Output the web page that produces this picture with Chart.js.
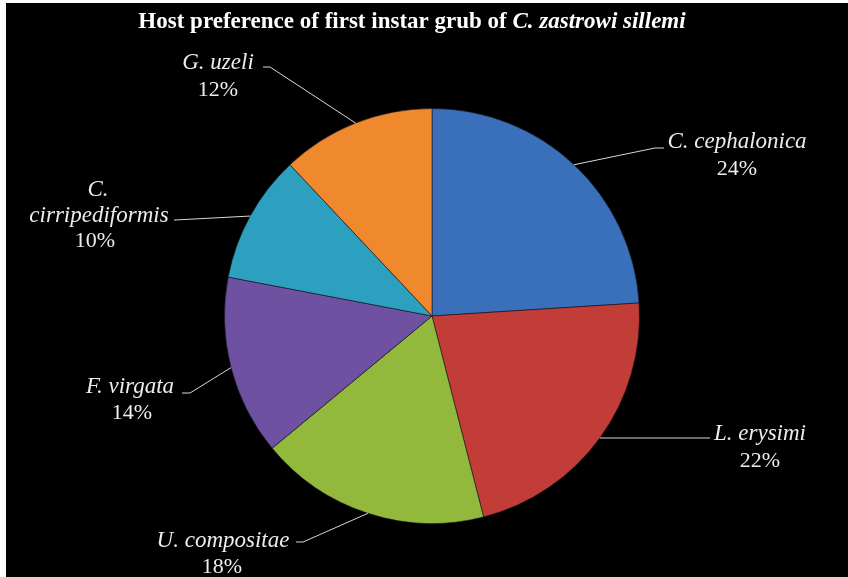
<!DOCTYPE html>
<html>
<head>
<meta charset="utf-8">
<script src="https://cdn.jsdelivr.net/npm/chart.js@4"></script>
<style>
  body { margin: 0; background: #ffffff; }
  #wrap { width: 848px; height: 577px; }
</style>
</head>
<body>
<div id="wrap"><canvas id="hostChart" width="848" height="577"></canvas></div>
<script>
const hosts = ["C. cephalonica", "L. erysimi", "U. compositae", "F. virgata", "C. cirripediformis", "G. uzeli"];
const shares = [24, 22, 18, 14, 10, 12];
const sliceColors = ["#3a6fb9", "#c23c38", "#92b93c", "#6f51a1", "#2ea0bf", "#f0892d"];

// where each label block sits and where its leader line bends
const labelSpots = [
  { lines: [[737, 142, "name"], [737, 169, "pct"]], elbow: [[655, 148], [664, 148]] },
  { lines: [[760, 434, "name"], [760, 461, "pct"]], elbow: [[606, 438], [710, 438]] },
  { lines: [[223, 541, "name"], [222, 567, "pct"]], elbow: [[303, 542], [296, 542]] },
  { lines: [[130, 387, "name"], [132, 413, "pct"]], elbow: [[190, 393], [182, 393]] },
  { lines: [[98, 190, "C."], [99, 216, "cirripediformis"], [95, 241, "pct"]], elbow: [[175, 220], [174, 220]] },
  { lines: [[218, 63, "name"], [218, 90, "pct"]], elbow: [[270, 67], [263, 67]] }
];

function shade(hex, amt) {
  const n = parseInt(hex.slice(1), 16);
  let r = (n >> 16) & 255, g = (n >> 8) & 255, b = n & 255;
  const f = (c) => Math.max(0, Math.min(255, Math.round(amt >= 0 ? c + (255 - c) * amt : c * (1 + amt))));
  return `rgb(${f(r)},${f(g)},${f(b)})`;
}

const backdrop = {
  id: "backdrop",
  beforeDraw(chart) {
    const ctx = chart.ctx;
    ctx.save();
    ctx.fillStyle = "#ffffff";
    ctx.fillRect(0, 0, chart.width, chart.height);
    ctx.fillStyle = "#000000";
    ctx.fillRect(6, 3, chart.width - 6, chart.height - 3);
    ctx.restore();
  }
};

const titleAndLabels = {
  id: "titleAndLabels",
  afterDraw(chart) {
    const ctx = chart.ctx;
    ctx.save();
    // title: plain part then italic species name
    const partA = "Host preference of first instar grub of ";
    const partB = "C. zastrowi sillemi";
    ctx.fillStyle = "#ffffff";
    ctx.textBaseline = "middle";
    ctx.font = "bold 23px 'Liberation Serif'";
    const wA = ctx.measureText(partA).width;
    ctx.font = "italic bold 23px 'Liberation Serif'";
    const wB = ctx.measureText(partB).width;
    let x = 412 - (wA + wB) / 2;
    ctx.textAlign = "left";
    ctx.font = "bold 23px 'Liberation Serif'";
    ctx.fillText(partA, x, 22);
    ctx.font = "italic bold 23px 'Liberation Serif'";
    ctx.fillText(partB, x + wA, 22);

    const meta = chart.getDatasetMeta(0);
    meta.data.forEach((arc, i) => {
      const p = arc.getProps(["x", "y", "startAngle", "endAngle", "outerRadius"], true);
      const mid = (p.startAngle + p.endAngle) / 2;
      const sx = p.x + Math.cos(mid) * p.outerRadius;
      const sy = p.y + Math.sin(mid) * p.outerRadius;
      const spot = labelSpots[i];
      ctx.strokeStyle = "#d8d8d8";
      ctx.lineWidth = 1;
      ctx.beginPath();
      ctx.moveTo(sx, sy);
      spot.elbow.forEach(([ex, ey]) => ctx.lineTo(ex, ey));
      ctx.stroke();

      ctx.fillStyle = "#ececec";
      ctx.textAlign = "center";
      spot.lines.forEach(([lx, ly, kind]) => {
        let txt;
        if (kind === "pct") {
          txt = shares[i] + "%";
          ctx.font = "22px 'Liberation Serif'";
        } else {
          txt = kind === "name" ? hosts[i] : kind;
          ctx.font = "italic 23px 'Liberation Serif'";
        }
        ctx.fillText(txt, lx, ly);
      });
    });
    ctx.restore();
  }
};

new Chart(document.getElementById("hostChart"), {
  type: "pie",
  data: {
    labels: hosts,
    datasets: [
      {
        data: shares,
        backgroundColor(context) {
          const chart = context.chart;
          const arc = chart.getDatasetMeta(0).data[context.dataIndex];
          const base = sliceColors[context.dataIndex];
          if (!arc || !arc.outerRadius) return base;
          const g = chart.ctx.createRadialGradient(arc.x, arc.y, 0, arc.x, arc.y, arc.outerRadius);
          g.addColorStop(0, shade(base, -0.05));
          g.addColorStop(0.9, base);
          g.addColorStop(0.955, shade(base, 0.16));
          g.addColorStop(1, shade(base, -0.2));
          return g;
        },
        borderColor: "rgba(20,20,30,0.6)",
        borderWidth: 1,
      },
    ],
  },
  options: {
    responsive: false,
    animation: false,
    layout: { padding: { top: 108, bottom: 53, left: 16, right: 0 } },
    plugins: {
      legend: { display: false },
      title: { display: false },
      tooltip: { enabled: false },
    },
  },
  plugins: [backdrop, titleAndLabels],
});
</script>
</body>
</html>
